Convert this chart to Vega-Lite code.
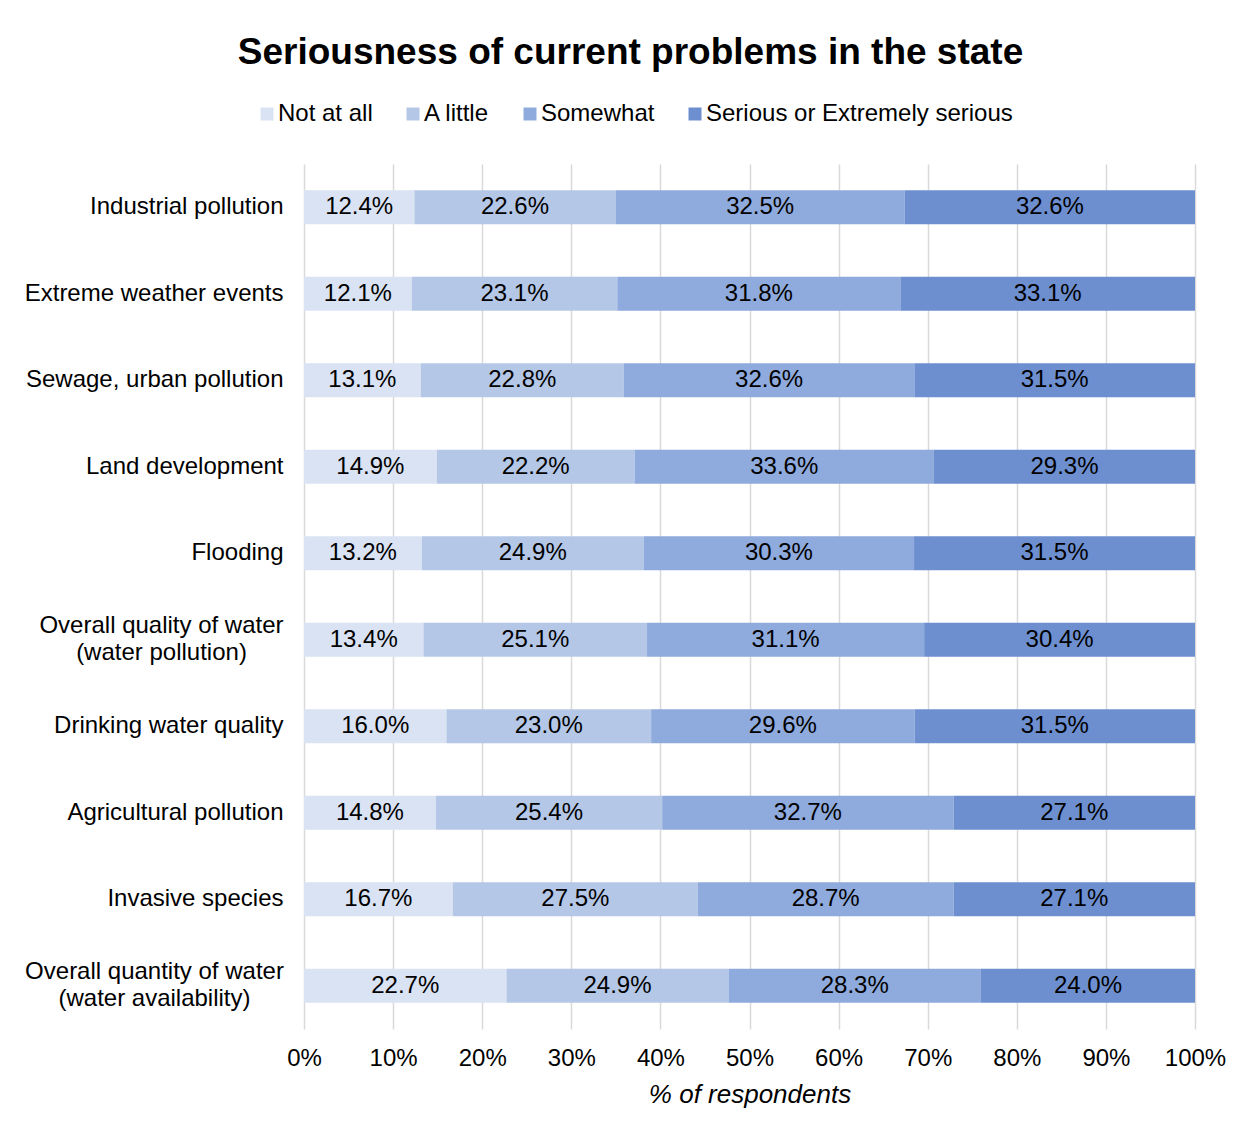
{
  "$schema": "https://vega.github.io/schema/vega-lite/v6.json",
  "autosize": "none",
  "width": 891,
  "height": 865,
  "padding": {"left": 304, "top": 164, "right": 55, "bottom": 104},
  "background": "white",
  "config": {
    "font": "Liberation Sans",
    "view": {"stroke": null}
  },
  "title": {
    "text": "Seriousness of current problems in the state",
    "fontSize": 37,
    "fontWeight": "bold",
    "color": "#000000",
    "anchor": "middle",
    "dx": -119,
    "offset": 30
  },
  "data": {
    "values": [
      {"cat": "Industrial pollution", "resp": "Not at all", "v": 0.124},
      {"cat": "Industrial pollution", "resp": "A little", "v": 0.226},
      {"cat": "Industrial pollution", "resp": "Somewhat", "v": 0.325},
      {"cat": "Industrial pollution", "resp": "Serious or Extremely serious", "v": 0.326},
      {"cat": "Extreme weather events", "resp": "Not at all", "v": 0.121},
      {"cat": "Extreme weather events", "resp": "A little", "v": 0.231},
      {"cat": "Extreme weather events", "resp": "Somewhat", "v": 0.318},
      {"cat": "Extreme weather events", "resp": "Serious or Extremely serious", "v": 0.331},
      {"cat": "Sewage, urban pollution", "resp": "Not at all", "v": 0.131},
      {"cat": "Sewage, urban pollution", "resp": "A little", "v": 0.228},
      {"cat": "Sewage, urban pollution", "resp": "Somewhat", "v": 0.326},
      {"cat": "Sewage, urban pollution", "resp": "Serious or Extremely serious", "v": 0.315},
      {"cat": "Land development", "resp": "Not at all", "v": 0.149},
      {"cat": "Land development", "resp": "A little", "v": 0.222},
      {"cat": "Land development", "resp": "Somewhat", "v": 0.336},
      {"cat": "Land development", "resp": "Serious or Extremely serious", "v": 0.293},
      {"cat": "Flooding", "resp": "Not at all", "v": 0.132},
      {"cat": "Flooding", "resp": "A little", "v": 0.249},
      {"cat": "Flooding", "resp": "Somewhat", "v": 0.303},
      {"cat": "Flooding", "resp": "Serious or Extremely serious", "v": 0.315},
      {"cat": "Overall quality of water\n(water pollution)", "resp": "Not at all", "v": 0.134},
      {"cat": "Overall quality of water\n(water pollution)", "resp": "A little", "v": 0.251},
      {"cat": "Overall quality of water\n(water pollution)", "resp": "Somewhat", "v": 0.311},
      {"cat": "Overall quality of water\n(water pollution)", "resp": "Serious or Extremely serious", "v": 0.304},
      {"cat": "Drinking water quality", "resp": "Not at all", "v": 0.160},
      {"cat": "Drinking water quality", "resp": "A little", "v": 0.230},
      {"cat": "Drinking water quality", "resp": "Somewhat", "v": 0.296},
      {"cat": "Drinking water quality", "resp": "Serious or Extremely serious", "v": 0.315},
      {"cat": "Agricultural pollution", "resp": "Not at all", "v": 0.148},
      {"cat": "Agricultural pollution", "resp": "A little", "v": 0.254},
      {"cat": "Agricultural pollution", "resp": "Somewhat", "v": 0.327},
      {"cat": "Agricultural pollution", "resp": "Serious or Extremely serious", "v": 0.271},
      {"cat": "Invasive species", "resp": "Not at all", "v": 0.167},
      {"cat": "Invasive species", "resp": "A little", "v": 0.275},
      {"cat": "Invasive species", "resp": "Somewhat", "v": 0.287},
      {"cat": "Invasive species", "resp": "Serious or Extremely serious", "v": 0.271},
      {"cat": "Overall quantity of water\n(water availability)", "resp": "Not at all", "v": 0.227},
      {"cat": "Overall quantity of water\n(water availability)", "resp": "A little", "v": 0.249},
      {"cat": "Overall quantity of water\n(water availability)", "resp": "Somewhat", "v": 0.283},
      {"cat": "Overall quantity of water\n(water availability)", "resp": "Serious or Extremely serious", "v": 0.240}
    ]
  },
  "transform": [
    {"stack": "v", "groupby": ["cat"], "offset": "normalize", "as": ["x0", "x1"]}
  ],
  "encoding": {
    "y": {
      "field": "cat",
      "type": "nominal",
      "sort": null,
      "scale": {"paddingInner": 0.607, "paddingOuter": 0.3035},
      "axis": {
        "title": null,
        "domain": false,
        "ticks": false,
        "grid": false,
        "labelFontSize": 24,
        "labelColor": "#000000",
        "labelLineHeight": 27,
        "labelLimit": 400,
        "labelPadding": {
          "condition": [
            {"test": "indexof(datum.value, 'quality of water') >= 0", "value": 143},
            {"test": "indexof(datum.value, 'quantity of water') >= 0", "value": 150}
          ],
          "value": 21
        },
        "labelAlign": {"condition": {"test": "indexof(datum.value, '\\n') >= 0", "value": "center"}, "value": "right"},
        "labelBaseline": {"condition": {"test": "indexof(datum.value, '\\n') >= 0", "value": "line-bottom"}, "value": "middle"},
        "labelExpr": "split(datum.label, '\\n')"
      }
    }
  },
  "layer": [
    {
      "mark": {"type": "bar"},
      "encoding": {
        "x": {
          "field": "x0",
          "type": "quantitative",
          "scale": {"domain": [0, 1], "nice": false},
          "axis": {
            "values": [0, 0.1, 0.2, 0.3, 0.4, 0.5, 0.6, 0.7, 0.8, 0.9, 1],
            "format": ".0%",
            "grid": true,
            "gridColor": "#d9d9d9",
            "gridWidth": 1.5,
            "domain": false,
            "ticks": false,
            "labelFlush": false,
            "labelOverlap": false,
            "labelFontSize": 24,
            "labelColor": "#000000",
            "labelPadding": 17,
            "title": "% of respondents",
            "titleFontSize": 26,
            "titleFontStyle": "italic",
            "titleFontWeight": "normal",
            "titleColor": "#000000",
            "titlePadding": 11
          }
        },
        "x2": {"field": "x1"},
        "color": {
          "field": "resp",
          "type": "nominal",
          "scale": {
            "domain": ["Not at all", "A little", "Somewhat", "Serious or Extremely serious"],
            "range": ["#dae3f3", "#b4c7e7", "#8faadc", "#6d8fd0"]
          },
          "legend": {
            "title": null,
            "orient": "none",
            "direction": "horizontal",
            "columns": 4,
            "legendX": -49,
            "legendY": -62,
            "symbolType": "square",
            "symbolSize": 169,
            "symbolStrokeWidth": 0,
            "labelFontSize": 24,
            "labelColor": "#000000",
            "labelOffset": -1,
            "columnPadding": 28,
            "labelLimit": 500,
            "padding": 0
          }
        }
      }
    },
    {
      "transform": [
        {"fold": ["x0", "x1"], "as": ["edge", "pos"]},
        {"aggregate": [{"op": "mean", "field": "pos", "as": "mid"}], "groupby": ["cat", "resp", "v"]}
      ],
      "mark": {"type": "text", "fontSize": 24, "color": "#000000", "align": "center", "baseline": "middle"},
      "encoding": {
        "x": {"field": "mid", "type": "quantitative"},
        "text": {"field": "v", "type": "quantitative", "format": ".1%"}
      }
    }
  ]
}
